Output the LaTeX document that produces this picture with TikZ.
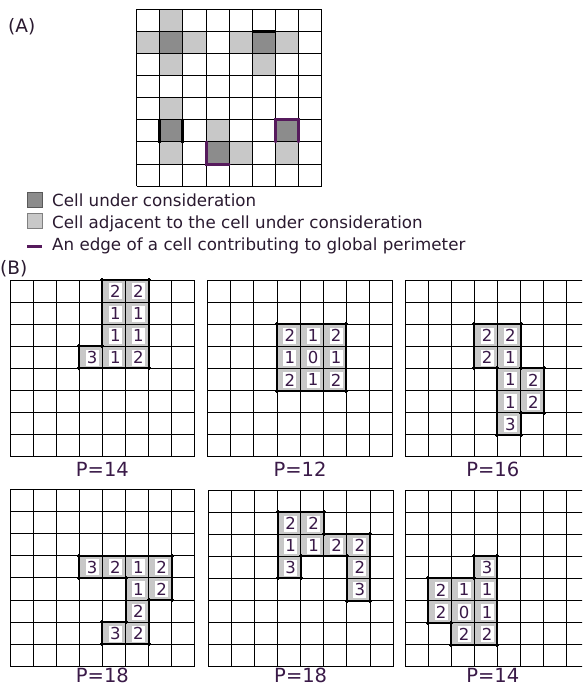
\documentclass[tikz,border=0pt]{standalone}
\usepackage{fontspec}
\setmainfont{DejaVu Sans}
\definecolor{darkcell}{HTML}{8C8C8C}
\definecolor{lightcell}{HTML}{C8C8C8}
\definecolor{purp}{HTML}{561A5C}
\definecolor{digitcol}{HTML}{3A1A48}
\definecolor{txtcol}{HTML}{2A1A30}
\tikzset{
  gridline/.style={draw=black, line width=0.9pt},
  cellfill/.style={fill=lightcell},
  darkfill/.style={fill=darkcell},
  outedge/.style={draw=black, line width=2pt, shorten <=-2pt, shorten >=-2pt},
  blackedge/.style={draw=black, line width=3pt},
  purpedge/.style={draw=purp, line width=3pt, line cap=round},
  digit/.style={fill=white, text=digitcol, font=\fontsize{16.5}{16.5}\selectfont, inner sep=0pt, minimum width=13pt, minimum height=16pt},
  plabel/.style={text=digitcol, font=\fontsize{19.5}{19.5}\selectfont, inner sep=1pt},
  legtext/.style={text=txtcol, font=\fontsize{16.7}{17}\selectfont, anchor=base west, inner sep=0pt},
  heading/.style={text=txtcol, font=\fontsize{18.5}{18.5}\selectfont, anchor=base west, inner sep=0pt}
}
\newcommand\gridlines{%
  \foreach \i in {0,...,8} {
    \draw[gridline] (\i,0) -- (\i,8);
    \draw[gridline] (0,\i) -- (8,\i);
  }}
\newcommand\bcell[3]{%
  \fill[cellfill] (#1,#2) rectangle ({#1+1},{#2+1});
  \node[digit] at ({#1+0.56},{#2+0.52}) {#3};}
\begin{document}
\begin{tikzpicture}[x=1pt,y=-1pt]
\useasboundingbox (0,0) rectangle (582,689);
\clip (0,0) rectangle (582,689);
\fill[white] (0,0) rectangle (582,689);

% ---------- Panel A ----------
\node[heading] (labA) at (8,32) {(A)};
\begin{scope}[shift={(136.7,9.3)}, x=23.1pt, y=-22.1pt]
  \foreach \c/\r in {1/0,0/1,2/1,1/2,4/1,6/1,5/2,1/4,1/6,3/5,4/6,6/6}
    \fill[cellfill] (\c,\r) rectangle ({\c+1},{\r+1});
  \foreach \c/\r in {1/1,5/1,1/5,3/6,6/5}
    \fill[darkfill] (\c,\r) rectangle ({\c+1},{\r+1});
  \gridlines
  \draw[blackedge] (5,1) -- (6,1);
  \draw[blackedge] (1,4.95) -- (1,6.05);
  \draw[blackedge] (2,4.95) -- (2,6.05);
  \draw[purpedge] (3,6) -- (3,7) -- (4,7);
  \draw[purpedge] (6,6) -- (6,5) -- (7,5) -- (7,6);
\end{scope}

% legend
\draw[fill=darkcell, draw=black!65, line width=0.8pt] (27,192) rectangle (42,207);
\node[legtext] (leg1) at (52,206) {Cell under consideration};
\draw[fill=lightcell, draw=black!50, line width=0.8pt] (27,213) rectangle (42,228);
\node[legtext] (leg2) at (52,228) {Cell adjacent to the cell under consideration};
\draw[purp, line width=3pt] (27,246.5) -- (42,246.5);
\node[legtext] (leg3) at (52,250) {An edge of a cell contributing to global perimeter};
\node[heading] (labB) at (0,274) {(B)};

% ---------- Panel B, grid 1 ----------
\begin{scope}[shift={(10,280)}, x=23.1pt, y=-22.1pt]
  \foreach \c/\r/\d in {4/0/2,5/0/2,4/1/1,5/1/1,4/2/1,5/2/1,3/3/3,4/3/1,5/3/2}
    {\bcell{\c}{\r}{\d}}
  \gridlines
  \foreach \a/\b in {{4,0}/{6,0},{6,0}/{6,4},{6,4}/{3,4},{3,4}/{3,3},{3,3}/{4,3},{4,3}/{4,0}}
    \draw[outedge] (\a) -- (\b);
  \node[plabel] (p1) at (4,8.55) {P=14};
\end{scope}

% ---------- grid 2 ----------
\begin{scope}[shift={(207.7,280)}, x=23.1pt, y=-22.1pt]
  \foreach \c/\r/\d in {3/2/2,4/2/1,5/2/2,3/3/1,4/3/0,5/3/1,3/4/2,4/4/1,5/4/2}
    {\bcell{\c}{\r}{\d}}
  \gridlines
  \foreach \a/\b in {{3,2}/{6,2},{6,2}/{6,5},{6,5}/{3,5},{3,5}/{3,2}}
    \draw[outedge] (\a) -- (\b);
  \node[plabel] (p2) at (4,8.55) {P=12};
\end{scope}

% ---------- grid 3 ----------
\begin{scope}[shift={(405,280)}, x=23.1pt, y=-22.1pt]
  \foreach \c/\r/\d in {3/2/2,4/2/2,3/3/2,4/3/1,4/4/1,5/4/2,4/5/1,5/5/2,4/6/3}
    {\bcell{\c}{\r}{\d}}
  \gridlines
  \foreach \a/\b in {{3,2}/{5,2},{5,2}/{5,4},{5,4}/{6,4},{6,4}/{6,6},{6,6}/{5,6},{5,6}/{5,7},{5,7}/{4,7},{4,7}/{4,4},{4,4}/{3,4},{3,4}/{3,2}}
    \draw[outedge] (\a) -- (\b);
  \node[plabel] (p3) at (3.8,8.55) {P=16};
\end{scope}

% ---------- grid 4 ----------
\begin{scope}[shift={(10,489.5)}, x=23.1pt, y=-22.1pt]
  \foreach \c/\r/\d in {3/3/3,4/3/2,5/3/1,6/3/2,5/4/1,6/4/2,5/5/2,4/6/3,5/6/2}
    {\bcell{\c}{\r}{\d}}
  \gridlines
  \foreach \a/\b in {{3,3}/{7,3},{7,3}/{7,5},{7,5}/{6,5},{6,5}/{6,7},{6,7}/{4,7},{4,7}/{4,6},{4,6}/{5,6},{5,6}/{5,4},{5,4}/{3,4},{3,4}/{3,3}}
    \draw[outedge] (\a) -- (\b);
  \node[plabel] (p4) at (4,8.42) {P=18};
\end{scope}

% ---------- grid 5 ----------
\begin{scope}[shift={(208.3,490)}, x=23.1pt, y=-22.1pt]
  \foreach \c/\r/\d in {3/1/2,4/1/2,3/2/1,4/2/1,5/2/2,6/2/2,3/3/3,6/3/2,6/4/3}
    {\bcell{\c}{\r}{\d}}
  \gridlines
  \foreach \a/\b in {{3,1}/{5,1},{5,1}/{5,2},{5,2}/{7,2},{7,2}/{7,5},{7,5}/{6,5},{6,5}/{6,3},{6,3}/{4,3},{4,3}/{4,4},{4,4}/{3,4},{3,4}/{3,1}}
    \draw[outedge] (\a) -- (\b);
  \node[plabel] (p5) at (4,8.4) {P=18};
\end{scope}

% ---------- grid 6 ----------
\begin{scope}[shift={(405,490)}, x=23.1pt, y=-22.1pt]
  \foreach \c/\r/\d in {3/3/3,1/4/2,2/4/1,3/4/1,1/5/2,2/5/0,3/5/1,2/6/2,3/6/2}
    {\bcell{\c}{\r}{\d}}
  \gridlines
  \foreach \a/\b in {{3,3}/{4,3},{4,3}/{4,7},{4,7}/{2,7},{2,7}/{2,6},{2,6}/{1,6},{1,6}/{1,4},{1,4}/{3,4},{3,4}/{3,3}}
    \draw[outedge] (\a) -- (\b);
  \node[plabel] (p6) at (3.8,8.4) {P=14};
\end{scope}
\end{tikzpicture}
\end{document}
